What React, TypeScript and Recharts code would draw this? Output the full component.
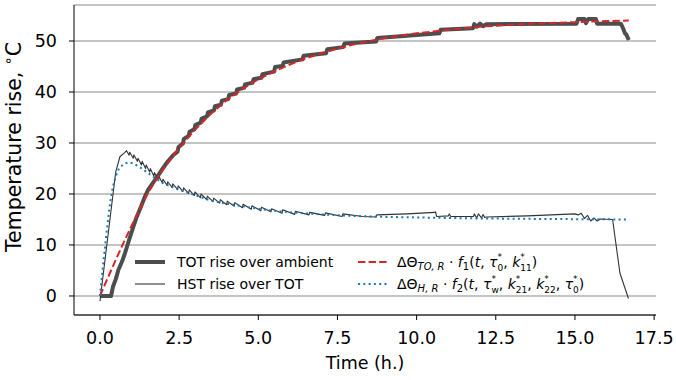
import { LineChart, Line, XAxis, YAxis, CartesianGrid, Legend } from "recharts";

document.body.style.margin = "0";

const FONT = "'DejaVu Sans', 'Noto Sans', sans-serif";

const xTicks = [0, 2.5, 5, 7.5, 10, 12.5, 15, 17.5];
const yTicks = [0, 10, 20, 30, 40, 50];

// TOT rise over ambient (measured, thick grey staircase)
const totPoints: [number, number][] = [
  [0, 0], [0.35, 0], [0.41, 1.8], [0.5, 3.3], [0.58, 5.1], [0.7, 6.8], [0.79, 8.4],
  [0.87, 10.0], [0.95, 11.6], [1.05, 13.5], [1.16, 15.5], [1.3, 17.6], [1.42, 19.5],
  [1.52, 20.8], [1.63, 21.8], [1.8, 23.3], [1.95, 24.7], [2.12, 26.2], [2.31, 27.6],
  [2.45, 28.3], [2.48, 29.2], [2.62, 29.9], [2.65, 30.8], [2.8, 31.4], [2.83, 32.2],
  [2.98, 32.7], [3.01, 33.5], [3.18, 34.0], [3.21, 34.8], [3.38, 35.2], [3.41, 36.0],
  [3.6, 36.4], [3.63, 37.2], [3.82, 37.5], [3.85, 38.3], [4.05, 38.6], [4.08, 39.4],
  [4.3, 39.7], [4.33, 40.5], [4.55, 40.8], [4.58, 41.5], [4.82, 41.8], [4.85, 42.5],
  [5.1, 42.8], [5.13, 43.5], [5.5, 44.0], [5.53, 44.9], [5.77, 45.1], [5.8, 45.8],
  [6.4, 46.4], [6.43, 47.1], [7.14, 47.6], [7.18, 48.4], [7.68, 48.8], [7.72, 49.5],
  [8.72, 49.9], [8.76, 50.6], [10.72, 51.5], [10.76, 52.2], [11.78, 52.5], [11.82, 53.3],
  [11.9, 52.8], [12.0, 53.4], [12.1, 52.9], [12.2, 53.3], [15.05, 53.4], [15.1, 54.3],
  [15.3, 54.3], [15.35, 53.5], [15.42, 54.3], [15.66, 54.3], [15.7, 53.4], [16.45, 53.4],
  [16.52, 52.5], [16.58, 51.5], [16.62, 51.3], [16.7, 50.2],
];

// HST rise over TOT (measured, thin sawtooth)
const hstPoints: [number, number][] = [
  [0, -1.0], [0.5, 24.4], [0.63, 27.3], [0.78, 28.1], [0.84, 28.5],
  [0.92, 27.6], [0.94, 28.2], [1.05, 27.0], [1.07, 27.7], [1.18, 26.4], [1.2, 27.0],
  [1.31, 25.7], [1.33, 26.4], [1.44, 25.0], [1.46, 25.7], [1.57, 24.3], [1.59, 25.0],
  [1.7, 23.5], [1.72, 24.2], [1.83, 22.8], [1.85, 23.5], [1.97, 22.2], [1.99, 22.9],
  [2.12, 21.7], [2.14, 22.4], [2.28, 21.3], [2.3, 22.0], [2.45, 20.9], [2.47, 21.6],
  [2.62, 20.5], [2.64, 21.2], [2.8, 20.1], [2.82, 20.8], [2.98, 19.7], [3.0, 20.4],
  [3.17, 19.3], [3.19, 20.0], [3.37, 18.9], [3.39, 19.6], [3.57, 18.5], [3.59, 19.2],
  [3.78, 18.2], [3.8, 18.9], [4.0, 17.9], [4.02, 18.6], [4.24, 17.6], [4.26, 18.3],
  [4.5, 17.3], [4.52, 18.0], [4.78, 17.0], [4.8, 17.7], [5.08, 16.7], [5.1, 17.4],
  [5.4, 16.5], [5.42, 17.1], [5.75, 16.2], [5.77, 16.9], [6.15, 16.0], [6.17, 16.6],
  [6.6, 15.9], [6.62, 16.4], [7.1, 15.8], [7.12, 16.3], [7.65, 15.6], [7.67, 16.1],
  [8.3, 15.6], [8.72, 15.5], [8.74, 15.9], [9.7, 16.1], [10.58, 16.4], [10.6, 16.5],
  [10.63, 15.6], [11.0, 15.7], [11.03, 16.1], [11.08, 15.6], [11.8, 15.6], [11.82, 16.1],
  [11.9, 15.3], [11.95, 16.1], [12.05, 15.3], [12.1, 16.0], [12.15, 15.4], [12.2, 15.5],
  [13.5, 15.7], [15.0, 16.1], [15.1, 15.9], [15.2, 16.2], [15.3, 15.2], [15.4, 15.8],
  [15.5, 14.7], [15.6, 15.3], [15.7, 14.7], [15.8, 15.1], [16.19, 15.0], [16.42, 4.5],
  [16.69, -0.5],
];

// fitted TOT curve (red dashed)
const fitTotPoints: [number, number][] = [
  [0, 0], [0.25, 3.6], [0.5, 7.1], [0.75, 10.5], [1.0, 13.8], [1.25, 17.0], [1.5, 20.0],
  [1.75, 22.6], [2.0, 24.9], [2.25, 27.0], [2.5, 29.0], [3.0, 32.6], [3.5, 35.7],
  [4.0, 38.4], [4.5, 40.6], [5.0, 42.5], [5.5, 44.0], [6.0, 45.4], [6.5, 46.6],
  [7.0, 47.6], [7.5, 48.5], [8.0, 49.3], [9.0, 50.6], [10.0, 51.5], [11.0, 52.2],
  [12.0, 52.8], [13.0, 53.2], [14.0, 53.5], [15.0, 53.7], [16.0, 53.9], [16.7, 54.0],
];

// fitted HST curve (blue dotted)
const fitHstPoints: [number, number][] = [
  [0, 0], [0.1, 6.2], [0.2, 12.0], [0.3, 17.3], [0.4, 21.2], [0.5, 23.5], [0.6, 25.0],
  [0.75, 25.9], [0.9, 26.2], [1.05, 26.0], [1.25, 25.3], [1.5, 24.2], [1.75, 23.1],
  [2.0, 22.1], [2.5, 20.8], [3.0, 19.8], [3.5, 18.7], [4.0, 18.1], [4.5, 17.6],
  [5.0, 17.1], [5.5, 16.7], [6.0, 16.4], [7.0, 16.0], [8.0, 15.7], [9.0, 15.5],
  [10.0, 15.4], [11.0, 15.3], [12.0, 15.2], [14.0, 15.1], [16.7, 15.0],
];

const toRows = (pts: [number, number][]) => pts.map(([t, y]) => ({ t, y }));

const xDomain: [number, number] = [-0.82, 17.56];
const yDomain: [number, number] = [-3.73, 57.06];

const GREY = "#4d4d4d";
const DARK = "#333333";
const RED = "#d62728";
const BLUE = "#1f77b4";

// asterisk stacked above the index (like tau_0^*)
function Scripts({ sub }: { sub: string }) {
  return (
    <span
      style={{
        display: "inline-block",
        fontSize: 9,
        lineHeight: "10.5px",
        fontStyle: "normal",
        position: "relative",
        top: 3.5,
        marginTop: -10.5,
      }}
    >
      *
      <br />
      {sub}
    </span>
  );
}

function Sub({ children, italic }: { children: React.ReactNode; italic?: boolean }) {
  return (
    <span style={{ fontSize: 10, position: "relative", top: 3, fontStyle: italic ? "italic" : "normal" }}>
      {children}
    </span>
  );
}

function Sample({ left, top, color, width, dash }: { left: number; top: number; color: string; width: number; dash?: string }) {
  return (
    <svg width={30} height={10} style={{ position: "absolute", left, top: top - 5 }}>
      <line x1={0} y1={5} x2={30} y2={5} stroke={color} strokeWidth={width} strokeDasharray={dash} />
    </svg>
  );
}

function LegendBox() {
  const row = (top: number): React.CSSProperties => ({
    position: "absolute",
    top: top - 8,
    height: 16,
    lineHeight: "16px",
    fontSize: 14,
    whiteSpace: "nowrap",
    color: "#000",
    fontFamily: FONT,
  });
  return (
    <div style={{ position: "relative", width: 676, height: 380 }}>
      <Sample left={135} top={262} color={GREY} width={4} />
      <div style={{ ...row(262), left: 177 }}>TOT rise over ambient</div>
      <Sample left={135} top={284} color={DARK} width={1.1} />
      <div style={{ ...row(284), left: 177 }}>HST rise over TOT</div>

      <Sample left={358} top={262} color={RED} width={2} dash="7.4 3.2" />
      <div style={{ ...row(262), left: 397 }}>
        ΔΘ<Sub italic>TO, R</Sub> · <i>f</i>
        <Sub>1</Sub>(<i>t</i>, <i>τ</i>
        <Scripts sub="0" />, <i>k</i>
        <Scripts sub="11" />)
      </div>
      <Sample left={358} top={284} color={BLUE} width={2} dash="2 3.3" />
      <div style={{ ...row(284), left: 397 }}>
        ΔΘ<Sub italic>H, R</Sub> · <i>f</i>
        <Sub>2</Sub>(<i>t</i>, <i>τ</i>
        <Scripts sub="w" />, <i>k</i>
        <Scripts sub="21" />, <i>k</i>
        <Scripts sub="22" />, <i>τ</i>
        <Scripts sub="0" />)
      </div>
    </div>
  );
}

export default function App() {
  return (
    <div style={{ width: 676, height: 380, background: "#fff", fontFamily: FONT }}>
      <LineChart width={676} height={380} margin={{ top: 5, right: 20, bottom: 0, left: 0 }} style={{ fontFamily: FONT }}>
        <CartesianGrid vertical={false} stroke="#b0b0b0" strokeWidth={1.6} />
        <XAxis
          dataKey="t"
          type="number"
          domain={xDomain}
          allowDataOverflow
          ticks={xTicks}
          tickFormatter={(v: number) => v.toFixed(1)}
          height={65}
          tickSize={5}
          tickMargin={12}
          tick={{ fontSize: 17.5, fill: "#000", fontFamily: FONT }}
          tickLine={{ stroke: "#000" }}
          axisLine={{ stroke: "#000" }}
          label={{
            content: () => (
              <text x={365} y={369} textAnchor="middle" fontSize={17.5} fontFamily={FONT} fill="#000">
                Time (h.)
              </text>
            ),
          }}
        />
        <XAxis xAxisId="top" orientation="top" type="number" domain={xDomain} allowDataOverflow height={0} tick={false} tickLine={false} axisLine={{ stroke: "#000" }} />
        <YAxis
          type="number"
          domain={yDomain}
          allowDataOverflow
          ticks={yTicks}
          width={74}
          tickSize={5}
          tickMargin={12}
          tick={{ fontSize: 17.5, fill: "#000", fontFamily: FONT }}
          tickLine={{ stroke: "#000" }}
          axisLine={{ stroke: "#000" }}
          label={{
            content: () => (
              <text x={21} y={147} transform="rotate(-90, 21, 147)" textAnchor="middle" fontSize={20.5} fontFamily={FONT} fill="#000">
                Temperature rise,{"  "}
                <tspan fontSize={14} dy={-8}>∘</tspan>
                <tspan dy={8}>C</tspan>
              </text>
            ),
          }}
        />
        <YAxis yAxisId="right" orientation="right" type="number" domain={yDomain} allowDataOverflow width={0} tick={false} tickLine={false} axisLine={{ stroke: "#000" }} />
        <Line data={toRows(totPoints)} dataKey="y" type="linear" stroke={GREY} strokeWidth={4} strokeLinejoin="round" dot={false} isAnimationActive={false} />
        <Line data={toRows(hstPoints)} dataKey="y" type="linear" stroke={DARK} strokeWidth={1.1} strokeLinejoin="round" dot={false} isAnimationActive={false} />
        <Line data={toRows(fitTotPoints)} dataKey="y" type="linear" stroke={RED} strokeWidth={2} strokeDasharray="7.4 3.2" dot={false} isAnimationActive={false} />
        <Line data={toRows(fitHstPoints)} dataKey="y" type="linear" stroke={BLUE} strokeWidth={2} strokeDasharray="2 3.3" dot={false} isAnimationActive={false} />
        <Legend
          verticalAlign="middle"
          align="center"
          content={() => <LegendBox />}
          wrapperStyle={{ left: 0, top: 0, width: 676, height: 380, pointerEvents: "none" }}
        />
      </LineChart>
    </div>
  );
}
